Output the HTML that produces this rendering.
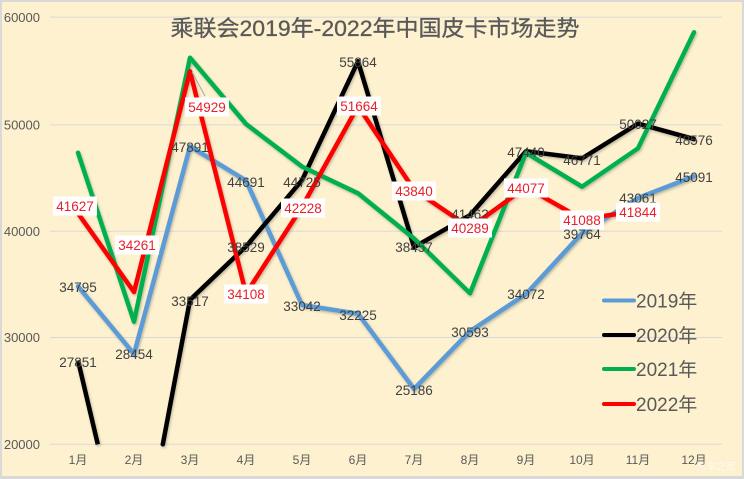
<!DOCTYPE html>
<html><head><meta charset="utf-8"><style>
html,body{margin:0;padding:0;background:#fff;width:744px;height:479px;overflow:hidden;}
svg{display:block;}
text{font-family:"Liberation Sans","Noto Sans CJK SC",sans-serif;}
</style></head><body>
<svg width="744" height="479" viewBox="0 0 744 479" xmlns="http://www.w3.org/2000/svg" style="overflow:hidden">
<defs>
<filter id="sh" x="0" y="0" width="744" height="479" filterUnits="userSpaceOnUse">
<feDropShadow dx="1" dy="1.5" stdDeviation="1.2" flood-color="#000" flood-opacity="0.25"/>
</filter>
</defs>
<rect x="0" y="0" width="744" height="479" fill="#D9D9D9"/>
<rect x="2" y="2" width="740" height="474" fill="#FDF1CF"/>
<!-- gridlines -->
<g stroke="#D9D9D9" stroke-width="1">
<line x1="50" y1="17.1" x2="722" y2="17.1"/>
<line x1="50" y1="124.9" x2="722" y2="124.9"/>
<line x1="50" y1="231.2" x2="722" y2="231.2"/>
<line x1="50" y1="337.5" x2="722" y2="337.5"/>
<line x1="50" y1="444.3" x2="722" y2="444.3"/>
</g>
<!-- y labels -->
<g fill="#595959" font-size="13" text-anchor="end">
<text x="40" y="22">60000</text>
<text x="40" y="129.5">50000</text>
<text x="40" y="236">40000</text>
<text x="40" y="342">30000</text>
<text x="40" y="449">20000</text>
</g>
<!-- x labels -->
<g fill="#595959" font-size="12" text-anchor="middle">
<text x="78" y="464">1月</text>
<text x="134" y="464">2月</text>
<text x="190" y="464">3月</text>
<text x="246" y="464">4月</text>
<text x="302" y="464">5月</text>
<text x="358" y="464">6月</text>
<text x="414" y="464">7月</text>
<text x="470" y="464">8月</text>
<text x="526" y="464">9月</text>
<text x="582" y="464">10月</text>
<text x="638" y="464">11月</text>
<text x="694" y="464">12月</text>
</g>
<!-- title -->
<text x="375" y="36" fill="#595959" font-size="22" text-anchor="middle" textLength="409" lengthAdjust="spacingAndGlyphs" stroke="#595959" stroke-width="0.3">乘联会2019年-2022年中国皮卡市场走势</text>
<!-- series -->
<g fill="none" stroke-width="4.5" stroke-linejoin="round" filter="url(#sh)">
<polyline stroke="#5B9BD5" stroke-linecap="round" points="78,286.3 134,354 190,146.4 246,180.6 302,305 358,313.7 414,388.9 470,331.2 526,294 582,233.2 638,198 694,176.3"/>
<polyline stroke="#000000" stroke-linecap="butt" points="78,360.5 97.8,444.3"/>
<polyline stroke="#000000" stroke-linecap="round" points="162.8,444.3 190,299.9 246,246.4 302,180.2 358,61.3 414,247.2 470,215.1 526,151.2 582,158.4 638,123.6 694,139.1"/>
<polyline stroke="#00B050" stroke-linecap="round" points="78,152.7 134,321.7 190,57.7 246,124 302,166.6 358,193.3 414,238.5 470,293.3 526,152.8 582,186.7 638,148.3 694,32.3"/>
<polyline stroke="#FF0000" stroke-linecap="round" points="78,213.3 134,292 190,71.3 246,293.6 302,206.9 358,106.1 414,189.7 470,227.6 526,187.2 582,219.1 638,211"/>
</g>
<!-- leader line -->
<line x1="192" y1="72" x2="205" y2="96" stroke="#A6A6A6" stroke-width="1"/>
<!-- 2019 labels -->
<g fill="#404040" font-size="13.5" text-anchor="middle">
<text x="78" y="291.8">34795</text>
<text x="134" y="358.8">28454</text>
<text x="190" y="151.8">47891</text>
<text x="246" y="186.8">44691</text>
<text x="302" y="310.8">33042</text>
<text x="358" y="319.8">32225</text>
<text x="414" y="394.8">25186</text>
<text x="470" y="336.8">30593</text>
<text x="526" y="298.8">34072</text>
<text x="582" y="238.8">39764</text>
<text x="638" y="202.8">43061</text>
<text x="694" y="181.8">45091</text>
<!-- 2020 -->
<text x="78" y="366.8">27851</text>
<text x="190" y="305.8">33517</text>
<text x="246" y="251.8">38529</text>
<text x="302" y="186.8">44725</text>
<text x="358" y="66.8">55864</text>
<text x="414" y="251.8">38457</text>
<text x="470" y="218.8">41462</text>
<text x="526" y="156.8">47440</text>
<text x="582" y="164.8">46771</text>
<text x="638" y="128.8">50027</text>
<text x="694" y="144.8">48576</text>
</g>
<!-- 2022 labels -->
<g fill="#fff">
<rect x="53" y="196.5" width="44" height="19"/>
<rect x="115" y="235.5" width="44" height="19"/>
<rect x="185" y="97.5" width="44" height="19"/>
<rect x="224" y="284.5" width="44" height="19"/>
<rect x="281" y="198.5" width="44" height="19"/>
<rect x="337" y="96.5" width="44" height="19"/>
<rect x="392" y="181.5" width="44" height="19"/>
<rect x="448" y="218.5" width="44" height="19"/>
<rect x="504" y="178.5" width="44" height="19"/>
<rect x="560" y="210.5" width="44" height="19"/>
<rect x="616" y="202.5" width="44" height="19"/>
</g>
<g fill="#E8202A" font-size="13.5" text-anchor="middle">
<text x="75" y="210.8">41627</text>
<text x="137" y="249.8">34261</text>
<text x="207" y="111.8">54929</text>
<text x="246" y="298.8">34108</text>
<text x="303" y="212.8">42228</text>
<text x="359" y="110.8">51664</text>
<text x="414" y="195.8">43840</text>
<text x="470" y="232.8">40289</text>
<text x="526" y="192.8">44077</text>
<text x="582" y="224.8">41088</text>
<text x="638" y="216.8">41844</text>
</g>
<!-- legend -->
<g stroke-width="4" stroke-linecap="round">
<line x1="604" y1="300.5" x2="634" y2="300.5" stroke="#5B9BD5"/>
<line x1="604" y1="335" x2="634" y2="335" stroke="#000000"/>
<line x1="604" y1="369" x2="634" y2="369" stroke="#00B050"/>
<line x1="604" y1="404" x2="634" y2="404" stroke="#FF0000"/>
</g>
<g fill="#595959" font-size="19">
<text x="636" y="307.5">2019年</text>
<text x="636" y="342">2020年</text>
<text x="636" y="376">2021年</text>
<text x="636" y="411">2022年</text>
</g>
<!-- watermark -->
<text x="716" y="470" fill="#ffffff" fill-opacity="0.6" font-size="10" text-anchor="middle">汽车之家</text>
</svg>
</body></html>
